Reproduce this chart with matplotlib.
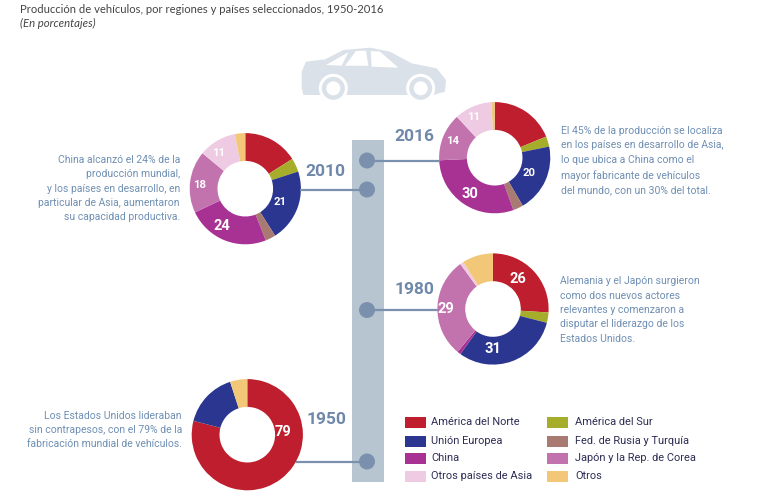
import matplotlib
matplotlib.use('Agg')
import matplotlib.pyplot as plt
from matplotlib.patches import Circle, Polygon, Rectangle

narrow = ['Roboto', 'DejaVu Sans']

regions = ['América del Norte', 'América del Sur', 'Unión Europea', 'Fed. de Rusia y Turquía',
           'China', 'Japón y la Rep. de Corea', 'Otros países de Asia', 'Otros']
colors = ['#be1e2d', '#a6ad2a', '#2b3690', '#a87a72', '#a83293', '#c273ae', '#eecbe2', '#f2c878']

# shares in percent, same order as regions
shares_2016 = [19, 3, 20, 3, 30, 14, 11, 1]
shares_2010 = [16, 4, 21, 3, 24, 18, 11, 3]
shares_1980 = [26, 3, 31, 0, 1, 29, 1, 9]
shares_1950 = [79, 0, 16, 0, 0, 0, 0, 5]

H = 499
text_blue = '#6f8fb3'
year_blue = '#6f88aa'
car_grey = '#dbe1e9'


def py(y):
    # picture rows run downwards, the axes run upwards
    return H - y


fig = plt.figure(figsize=(7.6, 4.99), dpi=100)
ax = fig.add_axes([0, 0, 1, 1])


def donut(shares, cx, cy, shown):
    ax.pie(shares, colors=colors, startangle=90, counterclock=False, radius=55.6,
           center=(cx, py(cy)), wedgeprops=dict(width=27.8, linewidth=0), normalize=True)
    for i, (x, y) in shown.items():
        size = 10.5 if shares[i] >= 24 else 8.2
        ax.text(x, py(y), str(shares[i]), color='white', fontsize=size, fontweight='bold',
                family=narrow, ha='center', va='center', zorder=6)


# timeline bar, dots and connectors
ax.add_patch(Rectangle((352, py(482)), 32, 342, color='#b7c5d1', lw=0, zorder=1))
for x0, x1, y in [(367, 440, 160.5), (300, 367, 189.5), (367, 438, 310), (296, 367, 461.5)]:
    ax.plot([x0, x1], [py(y), py(y)], color='#7b90ad', lw=1.6, zorder=2, solid_capstyle='butt')
for y in [160.5, 189.5, 310, 461.5]:
    ax.add_patch(Circle((367, py(y)), 8, color='#7b90ad', lw=0, zorder=3))

donut(shares_2016, 494.7, 157.7, {2: (529.3, 173), 4: (470.3, 193.7), 5: (452.3, 141), 6: (473.3, 117.3)})
donut(shares_2010, 245.3, 188.7, {2: (280.3, 202), 4: (221.7, 226), 5: (200, 185), 6: (218.3, 153.3)})
donut(shares_1980, 493, 309, {0: (518, 279.3), 2: (492.7, 348.7), 5: (446.3, 308.7)})
donut(shares_1950, 247.3, 434.7, {0: (282.7, 431.7)})

# pie() resets the limits, so set them afterwards
ax.set_xlim(0, 760)
ax.set_ylim(0, H)
ax.set_aspect('auto')
ax.axis('off')

for label, x, y in [('2016', 414, 136), ('2010', 325, 171), ('1980', 415, 290), ('1950', 326, 419)]:
    ax.text(x, py(y), label, color=year_blue, fontsize=12.5, fontweight='bold', family=narrow,
            ha='center', va='center', zorder=6)

# car illustration, decoration only
def car_xy(points):
    return [(280 + x / 3, py(y / 3)) for x, y in points]


body = [(65, 215), (78, 185), (135, 178), (190, 150), (270, 143), (330, 155), (395, 190), (470, 205),
        (498, 240), (495, 275), (460, 285), (70, 285), (65, 262)]
ax.add_patch(Polygon(car_xy(body), color=car_grey, lw=0, zorder=1))
for win in [[(138, 195), (205, 157), (185, 197)],
            [(195, 197), (228, 153), (258, 152), (265, 197)],
            [(272, 153), (300, 155), (355, 203), (275, 200)]]:
    ax.add_patch(Polygon(car_xy(win), color='white', lw=0, zorder=2))
for wx in [160, 422]:
    (cx, cy), = car_xy([(wx, 265)])
    ax.add_patch(Circle((cx, cy), 14.5, color='white', lw=0, zorder=2))
    ax.add_patch(Circle((cx, cy), 11.5, color=car_grey, lw=0, zorder=3))
    ax.add_patch(Circle((cx, cy), 7, color='white', lw=0, zorder=4))

ax.text(20, py(9), 'Producción de vehículos, por regiones y países seleccionados, 1950-2016',
        family=['Lato', 'DejaVu Sans'], fontsize=8.15, color='#444444', ha='left', va='center')
ax.text(20, py(23), '(En porcentajes)', family=['Lato', 'DejaVu Sans'], fontsize=8.2, style='italic',
        color='#444444', ha='left', va='center')

notes = [
    (180, 188.5, 'right', 'China alcanzó el 24% de la\nproducción mundial,\ny los países en desarrollo, en\nparticular de Asia, aumentaron\nsu capacidad productiva.'),
    (561, 160.5, 'left', 'El 45% de la producción se localiza\nen los países en desarrollo de Asia,\nlo que ubica a China como el\nmayor fabricante de vehículos\ndel mundo, con un 30% del total.'),
    (560, 310, 'left', 'Alemania y el Japón surgieron\ncomo dos nuevos actores\nrelevantes y comenzaron a\ndisputar el liderazgo de los\nEstados Unidos.'),
    (182, 430, 'right', 'Los Estados Unidos lideraban\nsin contrapesos, con el 79% de la\nfabricación mundial de vehículos.'),
]
for x, y, align, note in notes:
    ax.text(x, py(y), note, color=text_blue, fontsize=7.5, family=narrow, ha=align, va='center',
            multialignment=align, linespacing=1.55)

# legend, laid out by hand because the rows are uneven
legend_rows = [422, 441.5, 458, 476]
for i, name in enumerate(regions):
    col = i % 2
    row = legend_rows[i // 2]
    x = 405 if col == 0 else 547
    ax.add_patch(Rectangle((x, py(row + 5.5)), 21, 11, color=colors[i], lw=0))
    ax.text(x + 26 + (2 if col else 0), py(row), name, color='#2d2d55', fontsize=7.9, family=narrow,
            ha='left', va='center')

fig.savefig('out.png', dpi=100)
